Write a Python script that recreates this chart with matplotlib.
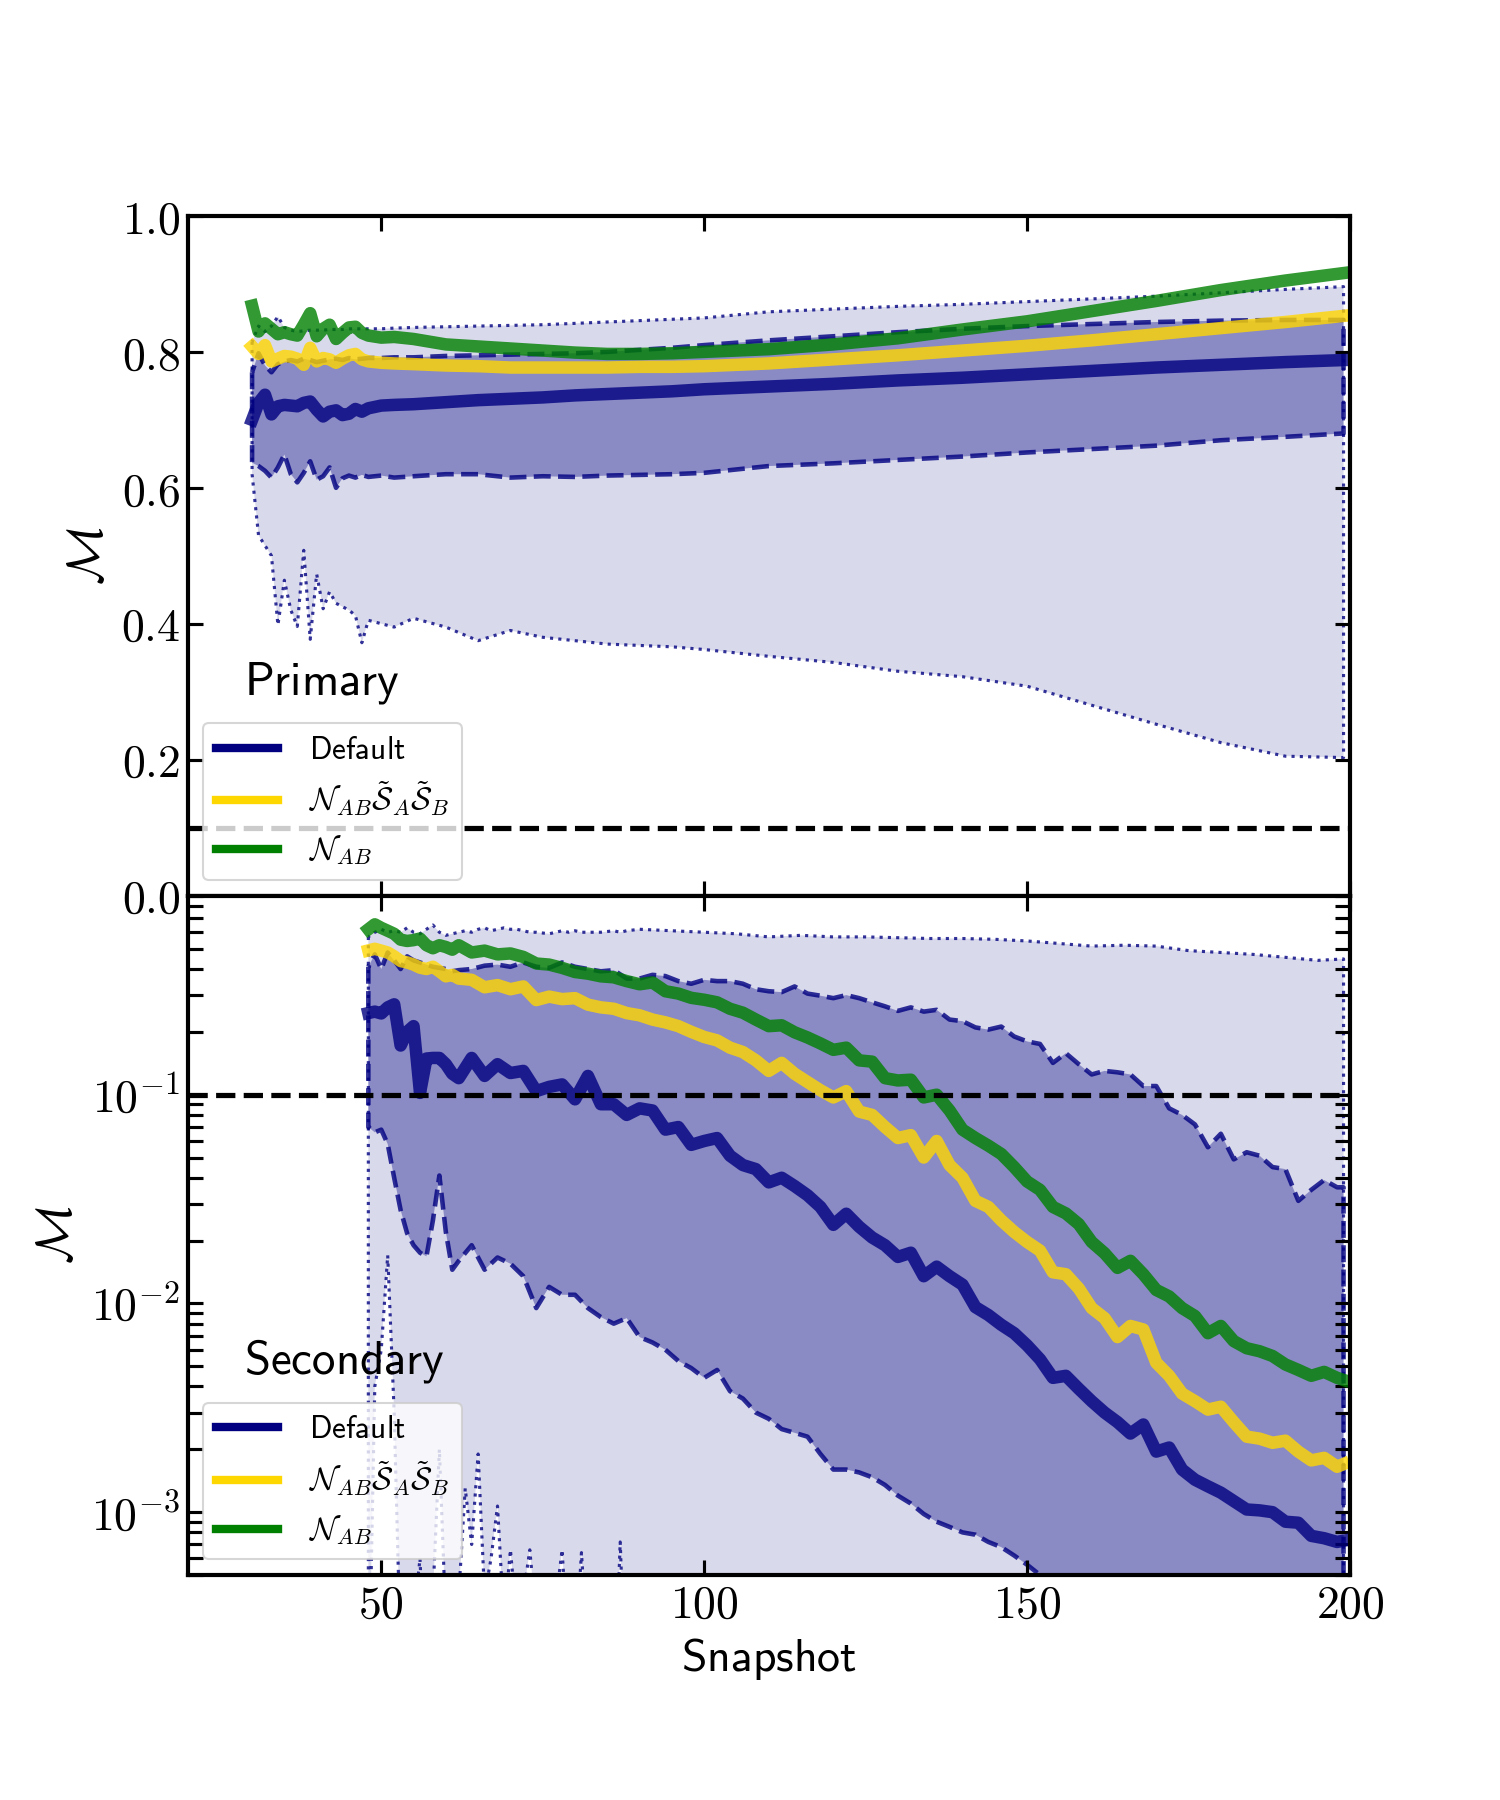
import numpy as np
import matplotlib
matplotlib.use('Agg')
import matplotlib.pyplot as plt
from matplotlib.lines import Line2D
from matplotlib.colors import to_rgba
from matplotlib.ticker import NullFormatter

plt.rcParams['mathtext.fontset'] = 'cm'
plt.rcParams['font.family'] = ['DejaVu Sans']

# ---- Primary (top panel) ----
snap_pri = [30, 31, 32, 33, 34, 35, 36, 37, 38, 39, 40, 41, 42, 43, 44, 45, 46, 47, 48,
            50, 52, 55, 60, 65, 70, 75, 80, 85, 90, 95, 100, 110, 120, 130, 140, 150,
            160, 170, 180, 190, 199]
def_pri = [0.700, 0.725, 0.737, 0.708, 0.720, 0.722, 0.721, 0.720, 0.725, 0.727, 0.715,
           0.705, 0.712, 0.714, 0.707, 0.709, 0.716, 0.712, 0.717, 0.721, 0.722, 0.723,
           0.726, 0.729, 0.731, 0.733, 0.736, 0.738, 0.740, 0.742, 0.745, 0.749, 0.753,
           0.758, 0.762, 0.767, 0.772, 0.777, 0.781, 0.785, 0.788]
nss_pri = [0.808, 0.797, 0.810, 0.786, 0.790, 0.794, 0.793, 0.790, 0.781, 0.806, 0.786,
           0.791, 0.789, 0.784, 0.790, 0.795, 0.797, 0.789, 0.786, 0.784, 0.783, 0.782,
           0.780, 0.779, 0.777, 0.777, 0.777, 0.777, 0.778, 0.778, 0.779, 0.783, 0.789,
           0.795, 0.802, 0.809, 0.817, 0.826, 0.835, 0.844, 0.853]
nab_pri = [0.868, 0.830, 0.842, 0.834, 0.826, 0.829, 0.826, 0.824, 0.840, 0.857, 0.823,
           0.834, 0.840, 0.819, 0.828, 0.836, 0.837, 0.828, 0.824, 0.821, 0.822, 0.819,
           0.811, 0.808, 0.805, 0.802, 0.799, 0.797, 0.797, 0.798, 0.800, 0.804, 0.811,
           0.820, 0.833, 0.845, 0.860, 0.875, 0.891, 0.905, 0.916]
hi_pri = [0.770, 0.798, 0.780, 0.770, 0.782, 0.786, 0.788, 0.786, 0.790, 0.788, 0.785,
          0.787, 0.789, 0.790, 0.788, 0.791, 0.789, 0.790, 0.791, 0.791, 0.792, 0.792,
          0.794, 0.795, 0.796, 0.797, 0.798, 0.800, 0.803, 0.806, 0.810, 0.817, 0.823,
          0.829, 0.834, 0.838, 0.841, 0.844, 0.846, 0.847, 0.847]
lo_pri = [0.637, 0.632, 0.625, 0.615, 0.630, 0.649, 0.620, 0.608, 0.622, 0.639, 0.612,
          0.617, 0.630, 0.600, 0.614, 0.618, 0.615, 0.619, 0.616, 0.618, 0.615, 0.617,
          0.620, 0.620, 0.615, 0.617, 0.616, 0.618, 0.619, 0.620, 0.622, 0.632, 0.636,
          0.641, 0.646, 0.652, 0.657, 0.662, 0.670, 0.675, 0.680]
max_pri = [0.815, 0.838, 0.830, 0.838, 0.852, 0.836, 0.832, 0.830, 0.831, 0.832, 0.832,
           0.832, 0.833, 0.833, 0.833, 0.834, 0.834, 0.834, 0.834, 0.834, 0.835, 0.836,
           0.837, 0.838, 0.839, 0.840, 0.842, 0.844, 0.846, 0.848, 0.850, 0.859, 0.863,
           0.867, 0.870, 0.874, 0.878, 0.882, 0.887, 0.892, 0.896]
min_pri = [0.620, 0.530, 0.515, 0.500, 0.398, 0.464, 0.420, 0.396, 0.508, 0.377, 0.473,
           0.422, 0.447, 0.430, 0.425, 0.420, 0.412, 0.372, 0.405, 0.400, 0.395, 0.408,
           0.395, 0.375, 0.390, 0.380, 0.375, 0.370, 0.368, 0.366, 0.362, 0.352, 0.343,
           0.330, 0.322, 0.308, 0.280, 0.252, 0.225, 0.205, 0.203]

# ---- Secondary (bottom panel) ----
snap_sec = [48, 49, 50, 51, 52, 53, 54, 55, 56, 57, 58, 59, 60, 61, 62,
            64, 66, 68, 70, 72, 74, 76, 78, 80, 82, 84, 86, 88, 90, 92, 94, 96, 98,
            100, 102, 104, 106, 108, 110, 112, 114, 116, 118, 120, 122, 124, 126, 128,
            130, 132, 134, 136, 138, 140, 142, 144, 146, 148, 150, 152, 154, 156, 158,
            160, 162, 164, 166, 168, 170, 172, 174, 176, 178, 180, 182, 184, 186, 188,
            190, 192, 194, 196, 198, 199]
def_sec = [0.246, 0.250, 0.245, 0.262, 0.271, 0.172, 0.200, 0.213, 0.102, 0.149, 0.150,
           0.150, 0.140, 0.126, 0.120,
           0.150, 0.123, 0.140, 0.127, 0.130, 0.104, 0.109, 0.112, 0.095, 0.123, 0.090,
           0.090, 0.080, 0.086, 0.084, 0.068, 0.070, 0.0575,
           0.060, 0.062, 0.051, 0.046, 0.044, 0.038, 0.040, 0.0365, 0.033, 0.029, 0.0238,
           0.0269, 0.0233, 0.0207, 0.019,
           0.0167, 0.0175, 0.0135, 0.015, 0.0135, 0.0123, 0.0096, 0.0088, 0.0079, 0.0072,
           0.0063, 0.0054, 0.0044, 0.0045, 0.0039,
           0.0034, 0.0030, 0.0027, 0.00238, 0.00263, 0.00195, 0.00204, 0.0016, 0.00143,
           0.00133, 0.00124, 0.00113, 0.00103, 0.00102, 0.00100,
           0.00090, 0.00089, 0.00077, 0.00075, 0.00072, 0.00073]
nss_sec = [0.491, 0.500, 0.490, 0.480, 0.460, 0.437, 0.430, 0.420, 0.406, 0.400, 0.410,
           0.390, 0.369, 0.375, 0.360,
           0.355, 0.327, 0.335, 0.320, 0.330, 0.284, 0.295, 0.287, 0.290, 0.270, 0.262,
           0.258, 0.246, 0.240, 0.229, 0.222, 0.213, 0.200,
           0.189, 0.182, 0.168, 0.160, 0.146, 0.130, 0.142, 0.126, 0.115, 0.105, 0.097,
           0.104, 0.083, 0.080, 0.070,
           0.062, 0.064, 0.050, 0.060, 0.046, 0.040, 0.031, 0.029, 0.025, 0.022,
           0.0197, 0.0179, 0.0141, 0.0138, 0.0118,
           0.0095, 0.0085, 0.0069, 0.0078, 0.0075, 0.0052, 0.0045, 0.0037, 0.0034,
           0.0031, 0.0032, 0.0027, 0.0023, 0.00225, 0.00215,
           0.0022, 0.00195, 0.00177, 0.00182, 0.00165, 0.0017]
nab_sec = [0.620, 0.655, 0.630, 0.610, 0.590, 0.553, 0.545, 0.550, 0.560, 0.520, 0.503,
           0.520, 0.510, 0.495, 0.520,
           0.480, 0.490, 0.470, 0.475, 0.457, 0.425, 0.420, 0.405, 0.387, 0.380, 0.369,
           0.365, 0.350, 0.338, 0.345, 0.313, 0.305, 0.291,
           0.285, 0.277, 0.258, 0.247, 0.229, 0.213, 0.215, 0.199, 0.188, 0.176, 0.164,
           0.168, 0.146, 0.144, 0.120,
           0.117, 0.118, 0.097, 0.100, 0.084, 0.068, 0.062, 0.057, 0.052, 0.045,
           0.0384, 0.035, 0.029, 0.027, 0.024,
           0.0197, 0.0174, 0.0148, 0.016, 0.0138, 0.0116, 0.0108, 0.0095, 0.0087,
           0.0072, 0.0078, 0.0066, 0.0061, 0.0059, 0.0056,
           0.0051, 0.0048, 0.0045, 0.0047, 0.0044, 0.0043]
hi_sec = [0.410, 0.470, 0.400, 0.480, 0.440, 0.400, 0.460, 0.440, 0.430, 0.420, 0.410,
          0.405, 0.400, 0.390, 0.395,
          0.400, 0.415, 0.420, 0.410, 0.430, 0.410, 0.405, 0.430, 0.410, 0.400, 0.390,
          0.395, 0.360, 0.360, 0.375, 0.370, 0.350, 0.340,
          0.355, 0.350, 0.350, 0.340, 0.320, 0.313, 0.310, 0.330, 0.305, 0.298, 0.290,
          0.300, 0.290, 0.277, 0.265,
          0.252, 0.262, 0.250, 0.255, 0.229, 0.225, 0.210, 0.205, 0.212, 0.190,
          0.180, 0.175, 0.142, 0.158, 0.140,
          0.125, 0.130, 0.128, 0.125, 0.110, 0.110, 0.086, 0.080, 0.072,
          0.056, 0.065, 0.049, 0.053, 0.051, 0.045,
          0.044, 0.031, 0.035, 0.039, 0.036, 0.036]
lo_sec = [0.070, 0.066, 0.068, 0.058, 0.040, 0.028, 0.0217, 0.019, 0.0175, 0.0168, 0.025,
          0.041, 0.022, 0.0145, 0.016,
          0.019, 0.0145, 0.0166, 0.0155, 0.0135, 0.0095, 0.012, 0.011, 0.011, 0.0095,
          0.0086, 0.008, 0.0085, 0.0069, 0.0065, 0.006, 0.0053, 0.0049,
          0.0044, 0.0048, 0.0038, 0.0035, 0.0030, 0.0028, 0.0025, 0.0024, 0.0023, 0.0019,
          0.0016, 0.0016, 0.00155, 0.00147, 0.00135,
          0.0012, 0.0011, 0.00098, 0.0009, 0.00085, 0.0008, 0.00078, 0.00072, 0.00068,
          0.00062, 0.00056, 0.0005, 0.00044, 0.0004, 0.00036,
          0.00032, 0.00029, 0.00026, 0.00024, 0.00022, 0.0002, 0.00018, 0.00017, 0.00016,
          0.00015, 0.00014, 0.00013, 0.00012, 0.00012, 0.00011,
          0.0001, 0.0001, 0.0001, 0.0001, 0.0001, 0.0001]

snap_sec_out = [48, 49, 50, 51, 52, 53, 54, 55, 56, 57, 58, 59, 60, 61, 62, 63, 64, 65,
                66, 67, 68, 69, 70, 71, 72, 73, 74, 76, 78, 79, 80, 81, 82, 84, 86, 87,
                88, 90, 95, 100, 105, 110, 115, 120, 125, 130, 135, 140, 145, 150, 155,
                160, 165, 170, 175, 180, 185, 190, 195, 199]
max_sec = [0.57, 0.60, 0.62, 0.60, 0.61, 0.60, 0.63, 0.60, 0.59, 0.62, 0.65, 0.60, 0.58,
           0.59, 0.60, 0.61, 0.60, 0.62, 0.63, 0.61, 0.62, 0.63, 0.62, 0.62, 0.61, 0.60,
           0.60, 0.59, 0.61, 0.60, 0.61, 0.60, 0.60, 0.60, 0.61, 0.60, 0.61, 0.62, 0.61,
           0.60, 0.59, 0.57, 0.58, 0.57, 0.57, 0.565, 0.56, 0.56, 0.555, 0.545, 0.53,
           0.515, 0.52, 0.515, 0.49, 0.48, 0.47, 0.455, 0.44, 0.447]
min_sec = [0.0001, 0.004, 0.006, 0.017, 0.003, 0.0002, 0.0001, 0.0003, 0.0006, 0.0001,
           0.0004, 0.002, 0.0003, 0.0001, 0.0004, 0.0013, 0.0007, 0.0019, 0.0004, 0.0006,
           0.00107, 0.0003, 0.00066, 0.0003, 0.0004, 0.00066, 0.0003, 0.0002, 0.00066,
           0.0002, 0.0002, 0.00064, 0.0002, 0.0001, 0.0001, 0.00072, 0.0001, 0.0001,
           0.0001, 0.0001, 0.0001, 0.0001, 0.0001, 0.0001, 0.0001, 0.0001, 0.0001,
           0.0001, 0.0001, 0.0001, 0.0001, 0.0001, 0.0001, 0.0001, 0.0001, 0.0001,
           0.0001, 0.0001, 0.0001, 0.0001]

labels = [r'$\mathsf{Default}$',
          r'$\mathcal{N}_{AB}\tilde{\mathcal{S}}_A\tilde{\mathcal{S}}_B$',
          r'$\mathcal{N}_{AB}$']
colors = ['navy', 'gold', 'green']
threshold = 0.1

xticks = [50, 100, 150, 200]
xticklabels = [r'$50$', r'$100$', r'$150$', r'$200$']
yticks_pri = [0.0, 0.2, 0.4, 0.6, 0.8, 1.0]
yticklabels_pri = [r'$0.0$', r'$0.2$', r'$0.4$', r'$0.6$', r'$0.8$', r'$1.0$']
yticks_sec = [1e-3, 1e-2, 1e-1]
yticklabels_sec = [r'$10^{-3}$', r'$10^{-2}$', r'$10^{-1}$']


def draw_panel(ax, x_out, lo_out, hi_out, x, lo, hi, series, name):
    ax.fill_between(x_out, lo_out, hi_out, facecolor=to_rgba('navy', 0.15),
                    edgecolor=to_rgba('navy', 0.8), linestyle=':', linewidth=1.5)
    ax.fill_between(x, lo, hi, facecolor=to_rgba('navy', 0.36),
                    edgecolor=to_rgba('navy', 0.8), linestyle='--', linewidth=2.2)
    for y, c in zip(series, colors):
        ax.plot(x, y, color=c, lw=6, alpha=0.8)
    ax.axhline(threshold, color='k', ls='--', lw=2.5)
    ax.text(0.049, 0.296, r'$\mathsf{' + name + '}$', transform=ax.transAxes,
            fontsize=22.5, va='baseline')
    handles = [Line2D([0], [0], color=c, lw=4) for c in colors]
    ax.legend(handles, labels, loc='lower left', fontsize=15, handletextpad=1.0)
    ax.set_ylabel(r'$\mathcal{M}$', fontsize=24)
    ax.tick_params(which='both', direction='in', top=True, right=True,
                   length=7, width=1.5, labelsize=22)
    for s in ax.spines.values():
        s.set_linewidth(2)


fig, (ax1, ax2) = plt.subplots(2, 1, figsize=(10, 12), dpi=150, sharex=True)
fig.subplots_adjust(left=0.125, right=0.9, top=0.88, bottom=0.125, hspace=0)

draw_panel(ax1, snap_pri, min_pri, max_pri, snap_pri, lo_pri, hi_pri,
           [def_pri, nss_pri, nab_pri], 'Primary')
ax1.set_ylim(0, 1)
ax1.set_yticks(yticks_pri)
ax1.set_yticklabels(yticklabels_pri)

ax2.set_yscale('log')
draw_panel(ax2, snap_sec_out, min_sec, max_sec, snap_sec, lo_sec, hi_sec,
           [def_sec, nss_sec, nab_sec], 'Secondary')
ax2.set_ylim(5e-4, 0.9)
ax2.set_yticks(yticks_sec)
ax2.set_yticklabels(yticklabels_sec)
ax2.yaxis.set_minor_formatter(NullFormatter())

ax2.set_xlim(20, 200)
ax2.set_xticks(xticks)
ax2.set_xticklabels(xticklabels)
ax2.set_xlabel(r'$\mathsf{Snapshot}$', fontsize=22)

plt.savefig('out.png', dpi=150)
